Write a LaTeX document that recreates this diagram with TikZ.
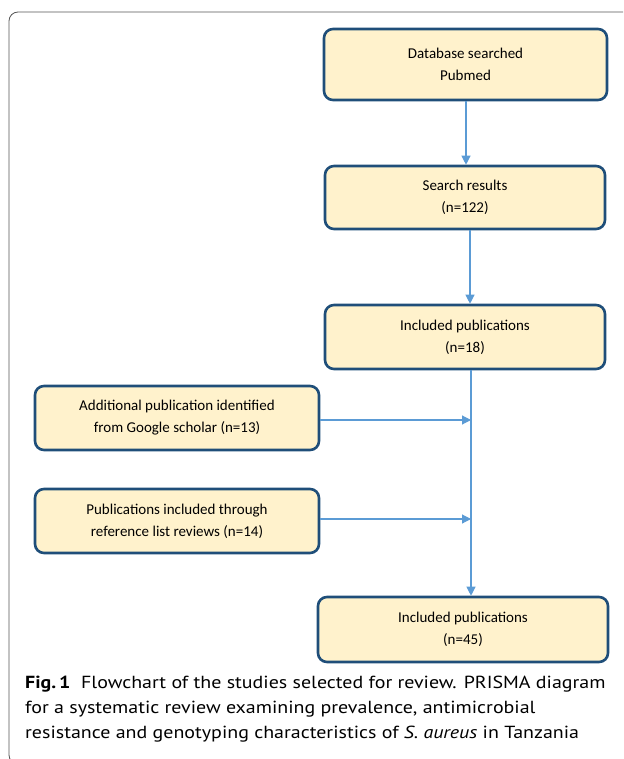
\documentclass[tikz,border=0pt]{standalone}
\usepackage{fontspec}
\setmainfont{Carlito}
\newfontfamily\capfont[FakeStretch=1.14]{PT Sans}
\usetikzlibrary{arrows.meta}
\definecolor{boxfill}{HTML}{FFF2CC}
\definecolor{boxline}{HTML}{1F4E79}
\definecolor{arrowc}{HTML}{5B9BD5}
\definecolor{framec}{HTML}{555555}
\tikzset{
  stepbox/.style={draw=boxline, line width=2.6pt, fill=boxfill, rounded corners=9pt, align=center, font=\fontsize{15}{22}\selectfont, inner sep=0pt},
  flow/.style={draw=arrowc, line width=1.1pt, -{Triangle[length=9pt,width=9pt]}},
  flowline/.style={draw=arrowc, line width=1.1pt}
}
\begin{document}
\begin{tikzpicture}[x=1pt,y=-1pt]
\useasboundingbox (0,0) rectangle (623,759);
\begin{scope}
\clip (0,0) rectangle (623,759);
\draw[framec, line width=0.8pt, rounded corners=9pt] (9,12) rectangle (660,764);
\end{scope}
\node[stepbox, minimum width=283pt, minimum height=71pt] (db) at (465.5,64.5) {Database searched\\Pubmed};
\node[stepbox, minimum width=280pt, minimum height=63pt] (sr) at (465,197.5) {Search results\\(n=122)};
\node[stepbox, minimum width=280pt, minimum height=64pt] (inc) at (465,337) {Included publications\\(n=18)};
\node[stepbox, minimum width=284pt, minimum height=64pt] (gs) at (177,418) {Additional publication identified\\from Google scholar (n=13)};
\node[stepbox, minimum width=284pt, minimum height=64pt] (rl) at (177,521) {Publications included through\\reference list reviews (n=14)};
\node[stepbox, minimum width=290pt, minimum height=65pt] (fin) at (463,629.5) {Included publications\\(n=45)};
\coordinate (g) at (471,420);
\coordinate (r) at (471,519);
\draw[flow] (db.south -| 466,0) -- (sr.north -| 466,0);
\draw[flow] (sr.south -| 470,0) -- (inc.north -| 470,0);
\draw[flow] (inc.south -| 471,0) -- (fin.north -| 471,0);
\draw[flow] (gs.east |- g) -- (g);
\draw[flow] (rl.east |- r) -- (r);
\node[anchor=north west, align=left, inner sep=0pt, font=\capfont\fontsize{17.5}{25}\selectfont] (cap) at (25,676)
{\textbf{Fig.\,1}\ \ Flowchart of the studies selected for review. PRISMA diagram\\
for a systematic review examining prevalence, antimicrobial\\
resistance and genotyping characteristics of \textit{S. aureus} in Tanzania};
\end{tikzpicture}
\end{document}
